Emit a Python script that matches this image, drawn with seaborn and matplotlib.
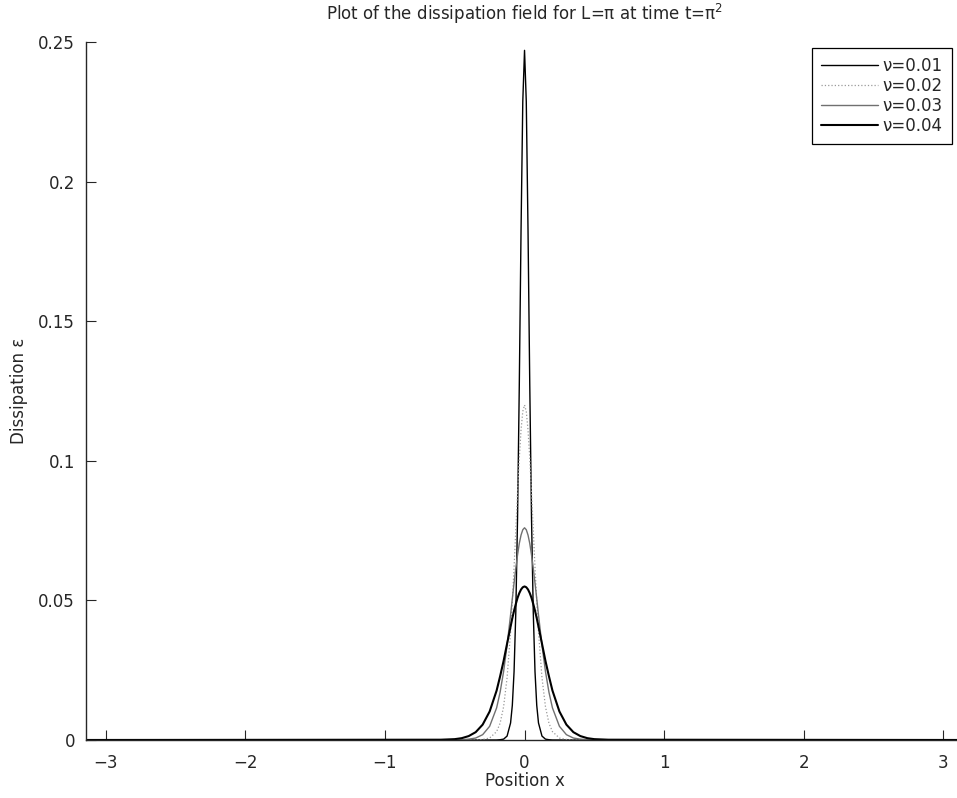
import pandas as pd
import matplotlib
matplotlib.use("Agg")
import matplotlib.pyplot as plt
import seaborn as sns

x_pos = [-3.1416, -0.6, -0.5, -0.45, -0.4, -0.35, -0.3, -0.25, -0.2, -0.175,
         -0.15, -0.125, -0.1, -0.0875, -0.075, -0.0625, -0.05, -0.0375, -0.025, -0.0125,
         0.0,
         0.0125, 0.025, 0.0375, 0.05, 0.0625, 0.075, 0.0875, 0.1, 0.125, 0.15,
         0.175, 0.2, 0.25, 0.3, 0.35, 0.4, 0.45, 0.5, 0.6, 3.1416]

# dissipation values for each viscosity
eps_001 = [0.0, 0.0, 0.0, 0.0, 0.0, 0.0, 0.0, 0.0, 0.0, 0.0001,
           0.0003, 0.0014, 0.0061, 0.0124, 0.0245, 0.0459, 0.0797, 0.1272, 0.1825, 0.2287,
           0.247,
           0.2287, 0.1825, 0.1272, 0.0797, 0.0459, 0.0245, 0.0124, 0.0061, 0.0014, 0.0003,
           0.0001, 0.0, 0.0, 0.0, 0.0, 0.0, 0.0, 0.0, 0.0, 0.0]
eps_002 = [0.0, 0.0, 0.0, 0.0, 0.0, 0.0, 0.0002, 0.0007, 0.0030, 0.0060,
           0.0119, 0.0223, 0.0387, 0.0496, 0.0618, 0.0753, 0.0887, 0.1010, 0.1110, 0.1177,
           0.120,
           0.1177, 0.1110, 0.1010, 0.0887, 0.0753, 0.0618, 0.0496, 0.0387, 0.0223, 0.0119,
           0.0060, 0.0030, 0.0007, 0.0002, 0.0, 0.0, 0.0, 0.0, 0.0, 0.0]
eps_003 = [0.0, 0.0, 0.0, 0.0001, 0.0003, 0.0007, 0.0019, 0.0049, 0.0115, 0.0171,
           0.0245, 0.0340, 0.0448, 0.0506, 0.0562, 0.0615, 0.0663, 0.0704, 0.0734, 0.0753,
           0.076,
           0.0753, 0.0734, 0.0704, 0.0663, 0.0615, 0.0562, 0.0506, 0.0448, 0.0340, 0.0245,
           0.0171, 0.0115, 0.0049, 0.0019, 0.0007, 0.0003, 0.0001, 0.0, 0.0, 0.0]
eps_004 = [0.0, 0.0001, 0.0003, 0.00065, 0.0014, 0.0028, 0.0055, 0.0102, 0.0177, 0.0228,
           0.0283, 0.0345, 0.0406, 0.0436, 0.0463, 0.0487, 0.0509, 0.0526, 0.0539, 0.0547,
           0.055,
           0.0547, 0.0539, 0.0526, 0.0509, 0.0487, 0.0463, 0.0436, 0.0406, 0.0345, 0.0283,
           0.0228, 0.0177, 0.0102, 0.0055, 0.0028, 0.0014, 0.00065, 0.0003, 0.0001, 0.0]

labels = ["ν=0.01", "ν=0.02", "ν=0.03", "ν=0.04"]
x_ticks = [-3, -2, -1, 0, 1, 2, 3]
y_ticks = [0, 0.05, 0.1, 0.15, 0.2, 0.25]

sns.set_style("ticks")
plt.rcParams["font.family"] = ["DejaVu Sans"]
plt.rcParams["xtick.direction"] = "in"
plt.rcParams["ytick.direction"] = "in"

fig = plt.figure(figsize=(9.57, 7.98), dpi=100)
ax = fig.add_axes([0.0899, 0.0727, 0.9164, 0.8747])

# line styles per curve (black, dotted grey, grey, thick black)
styles = [
    dict(color="black", lw=1.0, ls="-"),
    dict(color="#9a9a9a", lw=0.9, ls=":"),
    dict(color="#707070", lw=1.0, ls="-"),
    dict(color="black", lw=1.5, ls="-"),
]
for eps, lab, st in zip([eps_001, eps_002, eps_003, eps_004], labels, styles):
    df = pd.DataFrame({"x": x_pos, "eps": eps})
    sns.lineplot(data=df, x="x", y="eps", ax=ax, label=lab, color=st["color"],
                 linewidth=st["lw"], linestyle=st["ls"], estimator=None)

ax.set_xlim(-3.1416, 3.1416)
ax.set_ylim(0, 0.25)
ax.set_xticks(x_ticks)
ax.set_xticklabels(["\u22123", "\u22122", "\u22121", "0", "1", "2", "3"])
ax.set_yticks(y_ticks)
ax.set_yticklabels(["0", "0.05", "0.1", "0.15", "0.2", "0.25"])
ax.tick_params(axis="both", direction="in", length=7, width=0.8, labelsize=12)
ax.tick_params(axis="y", pad=8)
ax.tick_params(axis="x", pad=10)
for side in ["top", "right"]:
    ax.spines[side].set_visible(False)
for side in ["left", "bottom"]:
    ax.spines[side].set_linewidth(1.0)

ax.set_title("Plot of the dissipation field for L=π at time t=π$^2$", fontsize=12, pad=16)
ax.set_xlabel("Position x", fontsize=12, labelpad=0)
ax.set_ylabel("Dissipation ε", fontsize=12, labelpad=7)

leg = ax.legend(loc="upper right", bbox_to_anchor=(952 / 957, 1 - 48 / 798),
                bbox_transform=fig.transFigure, borderaxespad=0, fontsize=12,
                frameon=True, fancybox=False, edgecolor="black", framealpha=1,
                handlelength=3.4, handletextpad=0.3, labelspacing=0.12,
                borderpad=0.55)
leg.get_frame().set_linewidth(0.9)

fig.savefig("out.png", dpi=100)
